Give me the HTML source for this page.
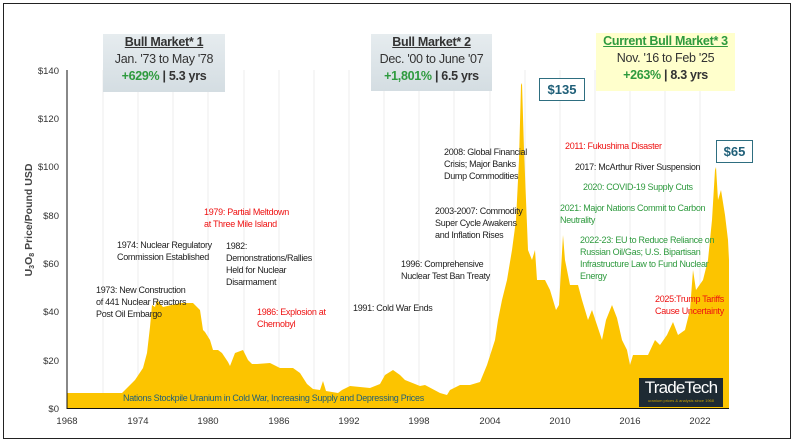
<!DOCTYPE html>
<html><head><meta charset="utf-8"><style>
body{margin:0;background:#fff;}
.w{position:relative;width:796px;height:444px;overflow:hidden;font-family:"Liberation Sans",sans-serif;}
.t{position:absolute;font-size:9px;line-height:12px;color:#222;letter-spacing:-0.3px;white-space:nowrap;}
.r{color:#ee1111}.g{color:#2e9a3e}
.box{position:absolute;text-align:center;font-size:12.5px;line-height:17px;color:#333;letter-spacing:-0.3px}
.box b.h{text-decoration:underline}
</style></head><body><div class="w">
<div style="position:absolute;left:3px;top:3px;width:786px;height:434px;border:1px solid #222"></div>
<svg width="796" height="444" style="position:absolute;left:0;top:0">
<g stroke="#eee" stroke-width="1">
<line x1="103" y1="70" x2="103" y2="408"/><line x1="138" y1="70" x2="138" y2="408"/><line x1="173" y1="70" x2="173" y2="408"/><line x1="208" y1="70" x2="208" y2="408"/><line x1="244" y1="70" x2="244" y2="408"/><line x1="279" y1="70" x2="279" y2="408"/><line x1="314" y1="70" x2="314" y2="408"/><line x1="349" y1="70" x2="349" y2="408"/><line x1="384" y1="70" x2="384" y2="408"/><line x1="419" y1="70" x2="419" y2="408"/><line x1="454" y1="70" x2="454" y2="408"/><line x1="490" y1="70" x2="490" y2="408"/><line x1="525" y1="70" x2="525" y2="408"/><line x1="560" y1="70" x2="560" y2="408"/><line x1="595" y1="70" x2="595" y2="408"/><line x1="630" y1="70" x2="630" y2="408"/><line x1="665" y1="70" x2="665" y2="408"/><line x1="700" y1="70" x2="700" y2="408"/>
</g>
<path fill="#fcc400" d="M67,408 L67,393 L122,393 L135,380 L143,368 L147,353 L150,327 L152,305 L155,307 L157,300 L163,307 L180,303 L193,303 L200,310 L203,330 L205,332 L210,340 L213,350 L218,350 L222,353 L228,362 L230,366 L235,353 L243,350 L248,360 L252,364 L257,364 L270,363 L280,368 L293,368 L300,373 L307,384 L313,389 L320,390 L323,381 L326,391 L338,393 L342,390 L350,386 L370,388 L380,384 L385,375 L393,370 L400,375 L405,380 L410,382 L420,386 L425,385 L440,393 L447,395 L450,390 L460,385 L470,385 L480,382 L487,365 L495,340 L498,320 L502,300 L507,280 L512,250 L516,220 L519,160 L521,85 L522,83 L524,150 L526,200 L528,250 L532,260 L535,250 L537,280 L545,280 L550,290 L556,310 L559,305 L561,270 L563,235 L565,260 L570,285 L578,285 L582,300 L588,320 L592,310 L597,325 L602,340 L606,320 L612,305 L617,318 L622,340 L627,350 L630,365 L633,355 L640,355 L648,355 L655,340 L660,345 L667,335 L673,322 L678,335 L685,330 L690,310 L693,270 L696,290 L703,280 L708,260 L712,220 L715,170 L716,167 L718,200 L721,190 L725,215 L728,240 L729,260 L729,408 Z"/>
<line x1="67" y1="70" x2="67" y2="409" stroke="#111" stroke-width="1"/>
<line x1="67" y1="408.5" x2="729" y2="408.5" stroke="#111" stroke-width="1"/>
<g font-size="9.5" fill="#333" text-anchor="end" font-family="Liberation Sans">
<text x="59" y="412">$0</text><text x="59" y="364">$20</text><text x="59" y="315">$40</text><text x="59" y="267">$60</text><text x="59" y="219">$80</text><text x="59" y="170">$100</text><text x="59" y="122">$120</text><text x="59" y="74">$140</text>
</g>
<g font-size="9.5" fill="#333" text-anchor="middle" font-family="Liberation Sans">
<text x="67" y="424">1968</text><text x="138" y="424">1974</text><text x="208" y="424">1980</text><text x="279" y="424">1986</text><text x="349" y="424">1992</text><text x="419" y="424">1998</text><text x="490" y="424">2004</text><text x="560" y="424">2010</text><text x="630" y="424">2016</text><text x="700" y="424">2022</text>
</g>
<text transform="translate(32,220) rotate(-90)" text-anchor="middle" font-size="10.5" font-weight="bold" fill="#444" font-family="Liberation Sans">U<tspan font-size="7" dy="2">3</tspan><tspan dy="-2">O</tspan><tspan font-size="7" dy="2">8</tspan><tspan dy="-2"> Price/Pound USD</tspan></text>
</svg>
<div class="box" style="left:103px;top:34px;width:122px;height:58px;background:linear-gradient(#e6ecef,#d4dde2)"><b class="h">Bull Market* 1</b><br>Jan. '73 to May '78<br><b><span class="g">+629%</span> | 5.3 yrs</b></div>
<div class="box" style="left:371px;top:34px;width:121px;height:57px;background:linear-gradient(#e6ecef,#d4dde2)"><b class="h">Bull Market* 2</b><br>Dec. '00 to June '07<br><b><span class="g">+1,801%</span> | 6.5 yrs</b></div>
<div class="box" style="left:596px;top:33px;width:139px;height:58px;background:#ffffcc"><b class="h g">Current Bull Market* 3</b><br>Nov. '16 to Feb '25<br><b><span class="g">+263%</span> | 8.3 yrs</b></div>
<div style="position:absolute;left:539px;top:78px;width:44px;height:21px;border:1px solid #2e6e80;background:#fff;color:#1f5f78;font-weight:bold;font-size:13px;line-height:21px;text-align:center">$135</div>
<div style="position:absolute;left:716px;top:140px;width:35px;height:21px;border:1px solid #2e6e80;background:#fff;color:#1f5f78;font-weight:bold;font-size:13px;line-height:21px;text-align:center">$65</div>
<div style="position:absolute;left:639px;top:378px;width:84px;height:29px;background:#1e2a33;color:#fff;text-align:center"><div style="font-size:17px;line-height:20px;letter-spacing:-0.8px">TradeTech</div><div style="font-size:4px;color:#c9a000;line-height:6px">uranium prices &amp; analysis since 1968</div></div>
<div class="t" style="left:123px;top:392px;color:#1f5f78">Nations Stockpile Uranium in Cold War, Increasing Supply and Depressing Prices</div>
<div class="t" style="left:96px;top:284px">1973: New Construction<br>of 441 Nuclear Reactors<br>Post Oil Embargo</div>
<div class="t" style="left:117px;top:239px">1974: Nuclear Regulatory<br>Commission Established</div>
<div class="t r" style="left:204px;top:206px">1979: Partial Meltdown<br>at Three Mile Island</div>
<div class="t" style="left:226px;top:240px">1982:<br>Demonstrations/Rallies<br>Held for Nuclear<br>Disarmament</div>
<div class="t r" style="left:257px;top:306px">1986: Explosion at<br>Chernobyl</div>
<div class="t" style="left:353px;top:302px">1991: Cold War Ends</div>
<div class="t" style="left:401px;top:258px">1996: Comprehensive<br>Nuclear Test Ban Treaty</div>
<div class="t" style="left:435px;top:205px">2003-2007: Commodity<br>Super Cycle Awakens<br>and Inflation Rises</div>
<div class="t" style="left:444px;top:146px">2008: Global Financial<br>Crisis; Major Banks<br>Dump Commodities</div>
<div class="t r" style="left:565px;top:140px">2011: Fukushima Disaster</div>
<div class="t" style="left:575px;top:161px">2017: McArthur River Suspension</div>
<div class="t g" style="left:583px;top:181px">2020: COVID-19 Supply Cuts</div>
<div class="t g" style="left:560px;top:202px">2021: Major Nations Commit to Carbon<br>Neutrality</div>
<div class="t g" style="left:580px;top:234px">2022-23: EU to Reduce Reliance on<br>Russian Oil/Gas; U.S. Bipartisan<br>Infrastructure Law to Fund Nuclear<br>Energy</div>
<div class="t r" style="left:655px;top:293px">2025:Trump Tariffs<br>Cause Uncertainty</div>
</div></body></html>
